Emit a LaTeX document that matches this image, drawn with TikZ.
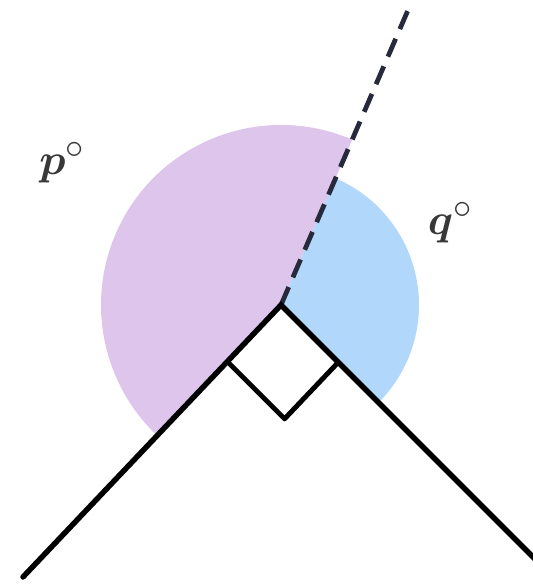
\documentclass[tikz,border=0pt]{standalone}
\usepackage{amsmath}
\usepackage{bm}
\usepackage{tikz}
\usepackage{xcolor}
\usetikzlibrary{calc}
\definecolor{cPink}{RGB}{221,197,235}
\definecolor{cBlue}{RGB}{177,216,250}
\definecolor{cDash}{RGB}{38,42,60}
\tikzset{
	arm/.style      ={line width=3.1pt, black, line cap=round},
	rightmark/.style={line width=2.8pt, black, line join=round},
	dashline/.style ={line width=2.7pt, cDash, dash pattern=on 11.1pt off 6pt},
	anglelbl/.style ={font=\fontsize{32}{36}\selectfont, text=black!78},
}

\begin{document}
\begin{tikzpicture}[x=0.02cm, y=0.02cm]
	\useasboundingbox (0,0) rectangle (533,587);
	\clip (0,0) rectangle (533,587);
	\coordinate (O) at (281,282);
	\coordinate (L) at (23,10);
	\coordinate (R) at ($(O)+(-45:380)$);
	\coordinate (T) at ($(O)+(66.7:321)$);
	% sectors
	\fill[cPink] (O) -- ($(O)+(66.7:180)$) arc[start angle=66.7, end angle=226.5, radius=180] -- cycle;
	\fill[cBlue] (O) -- ($(O)+(-45:138)$) arc[start angle=-45, end angle=66.7, radius=138] -- cycle;
	% right angle
	\coordinate (s1) at ($(O)+(226.5:78)$);
	\coordinate (s2) at ($(O)+(-45:81)$);
	\draw[rightmark] (s1) -- ($(s1)+(s2)-(O)$) -- (s2);
	% arms
	\draw[dashline] (O) -- (T);
	\draw[arm] (L) -- (O) -- (R);
	\node[anglelbl] (p) at (62,424) {$\bm{p}^{\circ}$};
	\node[anglelbl] (q) at (450,364) {$\bm{q}^{\circ}$};
\end{tikzpicture}
\end{document}
